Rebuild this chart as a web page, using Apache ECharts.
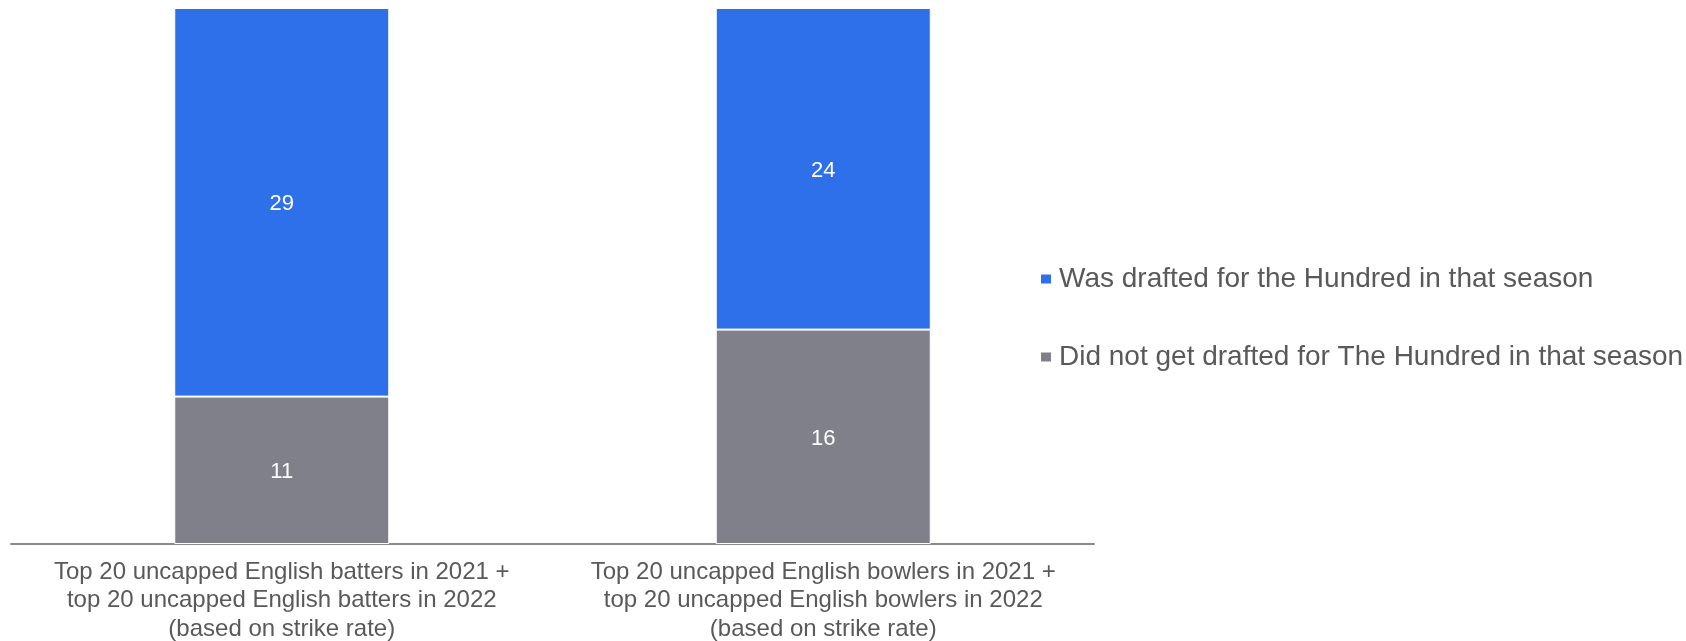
<!DOCTYPE html>
<html>
<head>
<meta charset="utf-8">
<script src="https://cdn.jsdelivr.net/npm/echarts@6/dist/echarts.min.js"></script>
<style>html,body{margin:0;padding:0;background:#fff}#c{width:1686px;height:641px}</style>
</head>
<body>
<div id="c"></div>
<script>
const categories = [
  "Top 20 uncapped English batters in 2021 +\ntop 20 uncapped English batters in 2022\n(based on strike rate)",
  "Top 20 uncapped English bowlers in 2021 +\ntop 20 uncapped English bowlers in 2022\n(based on strike rate)"
];
const seriesNames = ["Was drafted for the Hundred in that season", "Did not get drafted for The Hundred in that season"];
const drafted = [29, 24];
const notDrafted = [11, 16];

const chart = echarts.init(document.getElementById('c'), null, {renderer: 'canvas'});
const font = 'Liberation Sans, Arial, sans-serif';
chart.setOption({
  animation: false,
  textStyle: {fontFamily: font},
  grid: {left: 11, right: 592, top: 8, bottom: 97, containLabel: false, outerBoundsMode: 'none'},
  legend: {
    orient: 'vertical', left: 1034, top: 260, itemGap: 50, padding: 5,
    icon: 'rect', itemWidth: 12, itemHeight: 11,
    data: [seriesNames[0], seriesNames[1]],
    textStyle: {fontFamily: font, fontSize: 28, color: '#595959', padding: [0, 0, 0, 2]}
  },
  xAxis: {
    type: 'category', data: categories,
    axisLine: {lineStyle: {color: '#89898f', width: 2}},
    axisTick: {show: false},
    axisLabel: {fontFamily: font, fontSize: 24, lineHeight: 28.5, color: '#595959', margin: 14, interval: 0}
  },
  yAxis: {type: 'value', min: 0, max: 40, show: false, splitLine: {show: false}},
  series: [
    {
      name: seriesNames[1], type: 'bar', stack: 's', data: notDrafted, barWidth: 215,
      itemStyle: {color: '#80808a', borderColor: '#ffffff', borderWidth: 1},
      label: {show: true, position: 'inside', color: '#ffffff', fontSize: 22, fontFamily: font, offset: [0, 2]}
    },
    {
      name: seriesNames[0], type: 'bar', stack: 's', data: drafted, barWidth: 215,
      itemStyle: {color: '#2e6fea', borderColor: '#ffffff', borderWidth: 1},
      label: {show: true, position: 'inside', color: '#ffffff', fontSize: 22, fontFamily: font, offset: [0, 2]}
    }
  ]
});
</script>
</body>
</html>
